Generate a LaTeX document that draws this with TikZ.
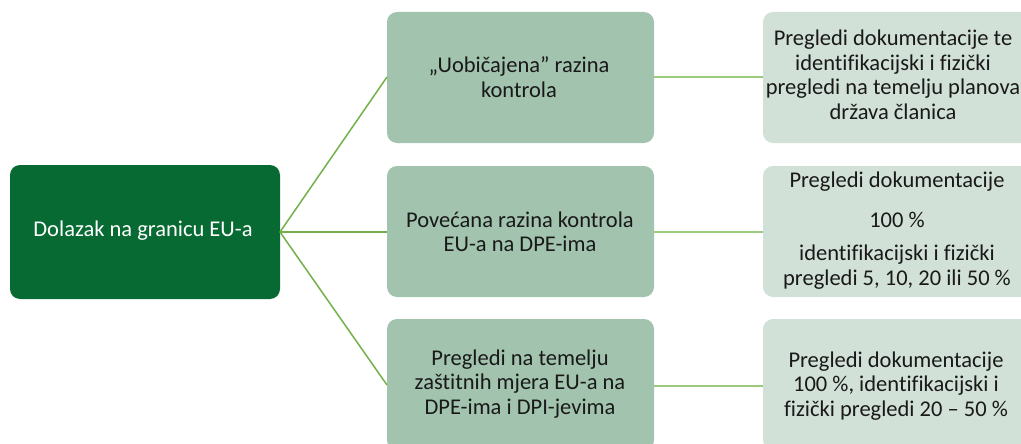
\documentclass[tikz,border=0pt]{standalone}
\usepackage{fontspec}
\setmainfont[Ligatures=NoCommon]{Carlito}
\definecolor{rootc}{HTML}{076A33}
\definecolor{midc}{HTML}{A2C3AE}
\definecolor{rightc}{HTML}{D2E1D7}
\definecolor{linec}{HTML}{74B04A}
\definecolor{linec2}{HTML}{9CCB7E}
\begin{document}
\begin{tikzpicture}[x=1pt,y=-1pt,
  txt/.style={align=center, font=\fontsize{22.5}{24.5}\selectfont, inner sep=0pt, text=black!90},
  pt/.style={inner sep=0pt, minimum size=0pt},
  conn/.style={draw=linec, line width=1.5pt},
  conn2/.style={draw=linec2, line width=1.5pt}]
\useasboundingbox (0,0) rectangle (1021,444);
\clip (0,0) rectangle (1021,444);
% root
\fill[rootc, rounded corners=10pt] (10,165) rectangle (280,299);
\node[pt] (root) at (280,232) {};
\node[txt, text=white] (roott) at (143,231) {Dolazak na granicu EU-a};
% middle boxes
\fill[midc, rounded corners=10pt] (387,12) rectangle (654,143);
\fill[midc, rounded corners=10pt] (387,166) rectangle (654,297);
\fill[midc, rounded corners=10pt] (387,319) rectangle (654,450);
\node[pt] (m1l) at (387,77) {};
\node[pt] (m2l) at (387,232) {};
\node[pt] (m3l) at (387,385) {};
\node[pt] (m1r) at (654,77) {};
\node[pt] (m2r) at (654,232) {};
\node[pt] (m3r) at (654,386) {};
% right boxes
\fill[rightc, rounded corners=10pt] (763,12) rectangle (1040,143);
\fill[rightc, rounded corners=10pt] (763,166) rectangle (1040,297);
\fill[rightc, rounded corners=10pt] (763,319) rectangle (1040,450);
\node[pt] (r1l) at (763,77) {};
\node[pt] (r2l) at (763,232) {};
\node[pt] (r3l) at (763,386) {};

% texts
\node[txt] (m1t) at (519,77) {„Uobičajena” razina\\kontrola};
\node[txt] (m2t) at (520,232) {Povećana razina kontrola\\EU-a na DPE-ima};
\node[txt] (m3t) at (520,384) {Pregledi na temelju\\zaštitnih mjera EU-a na\\DPE-ima i DPI-jevima};

\node[txt] (r1t) at (893,75) {Pregledi dokumentacije te\\identifikacijski i fizički\\pregledi na temelju planova\\država članica};
\node[txt] (r2a) at (897,182) {Pregledi dokumentacije};
\node[txt] (r2b) at (897,220) {100 \%};
\node[txt] (r2c) at (897,267) {identifikacijski i fizički\\pregledi 5, 10, 20 ili 50 \%};
\node[txt] (r3t) at (896,386) {Pregledi dokumentacije\\100 \%, identifikacijski i\\fizički pregledi 20 – 50 \%};

% connectors
\draw[conn] (root.center) -- (m1l.center);
\draw[conn] (root.center) -- (m2l.center);
\draw[conn] (root.center) -- (m3l.center);
\draw[conn2] (m1r.center) -- (r1l.center);
\draw[conn2] (m2r.center) -- (r2l.center);
\draw[conn2] (m3r.center) -- (r3l.center);
\end{tikzpicture}
\end{document}
